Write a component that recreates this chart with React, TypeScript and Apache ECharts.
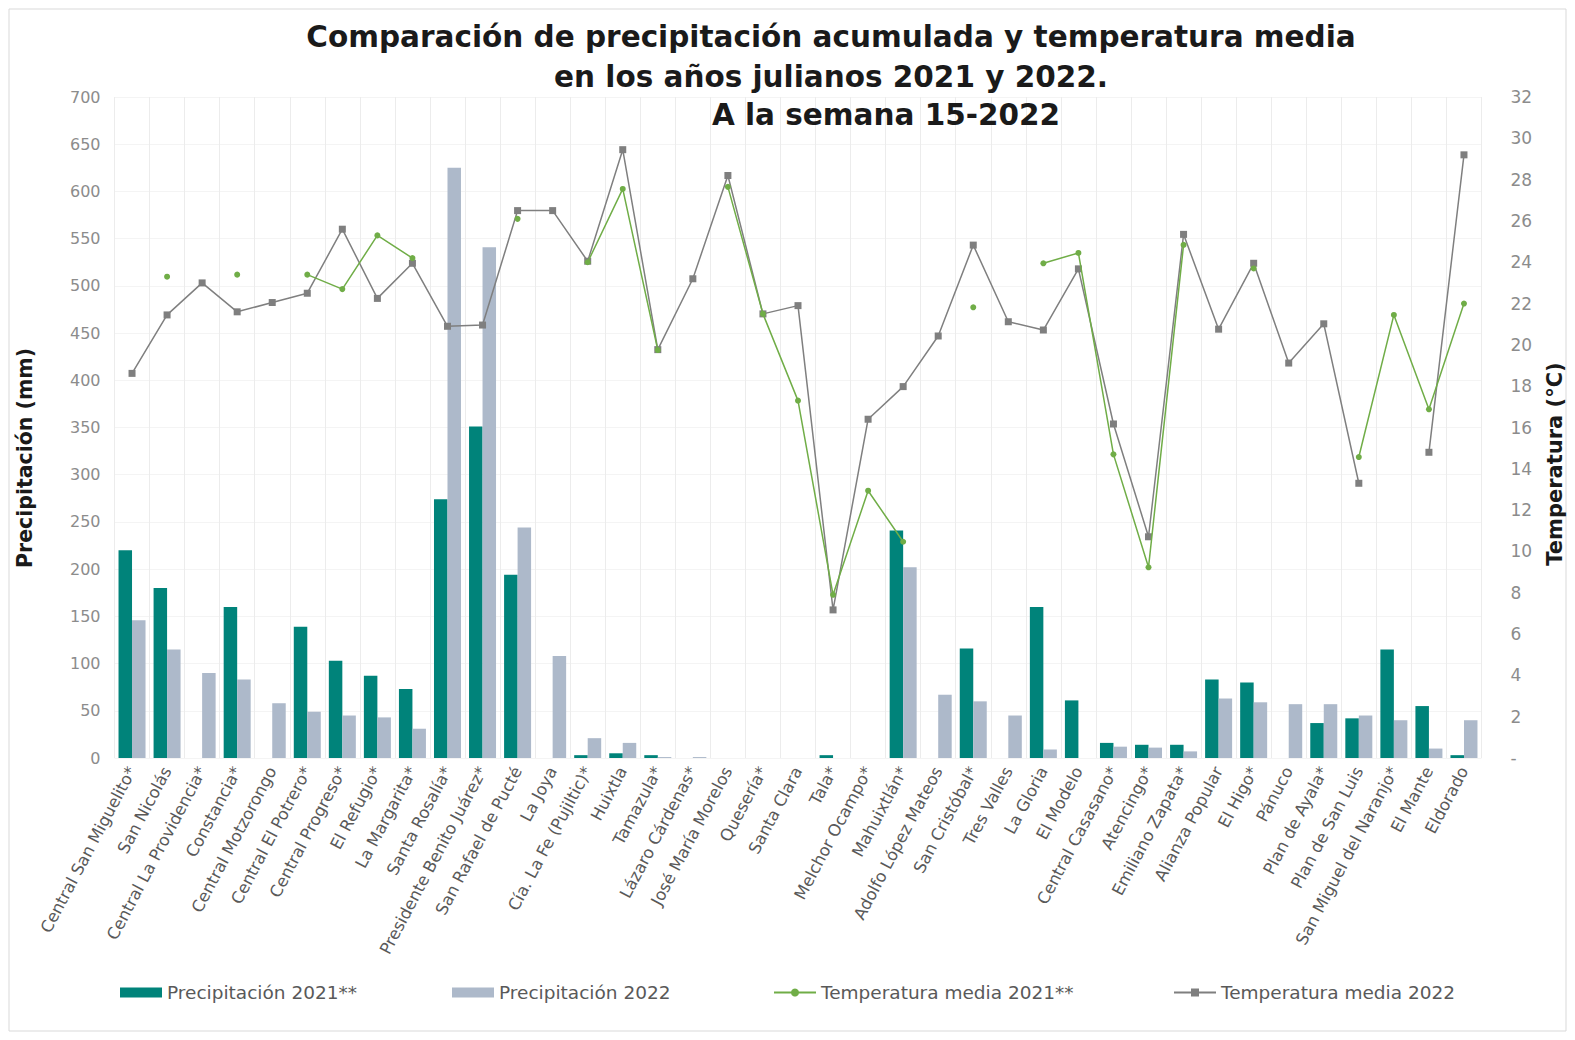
import React, { useEffect, useRef } from "react";
import * as echarts from "echarts";

const categories = [
  "Central San Miguelito*", "San Nicolás", "Central La Providencia*", "Constancia*", "Central Motzorongo",
  "Central El Potrero*", "Central Progreso*", "El Refugio*", "La Margarita*", "Santa Rosalía*",
  "Presidente Benito Juárez*", "San Rafael de Pucté", "La Joya", "Cía. La Fe (Pujiltic)*", "Huixtla",
  "Tamazula*", "Lázaro Cárdenas*", "José María Morelos", "Quesería*", "Santa Clara",
  "Tala*", "Melchor Ocampo*", "Mahuixtlán*", "Adolfo López Mateos", "San Cristóbal*",
  "Tres Valles", "La Gloria", "El Modelo", "Central Casasano*", "Atencingo*",
  "Emiliano Zapata*", "Alianza Popular", "El Higo*", "Pánuco", "Plan de Ayala*",
  "Plan de San Luis", "San Miguel del Naranjo*", "El Mante", "Eldorado",
];

const precip2021 = [
  220, 180, 0, 160, 0, 139, 103, 87, 73, 274,
  351, 194, 0, 3, 5, 3, 0, 0, 0, 0,
  3, 0, 241, 0, 116, 0, 160, 61, 16, 14,
  14, 83, 80, 0, 37, 42, 115, 55, 3,
];

const precip2022 = [
  146, 115, 90, 83, 58, 49, 45, 43, 31, 625,
  541, 244, 108, 21, 16, 1, 1, 0, 0, 0,
  0, 0, 202, 67, 60, 45, 9, 0, 12, 11,
  7, 63, 59, 57, 57, 45, 40, 10, 40,
];

const temp2021 = [
  null, 23.3, null, 23.4, null, 23.4, 22.7, 25.3, 24.2, null,
  null, 26.1, null, 24.0, 27.55, 19.75, null, 27.65, 21.5, 17.3,
  7.9, 12.94, 10.47, null, 21.82, null, 23.95, 24.45, 14.7, 9.23,
  24.84, null, 23.7, null, null, 14.57, 21.45, 16.88, 22.0,
];

const temp2022 = [
  18.62, 21.45, 23.0, 21.6, 22.05, 22.5, 25.6, 22.25, 23.95, 20.9,
  20.96, 26.5, 26.5, 24.05, 29.45, 19.77, 23.2, 28.2, 21.5, 21.9,
  7.17, 16.4, 17.98, 20.43, 24.83, 21.12, 20.72, 23.68, 16.17, 10.71,
  25.35, 20.76, 23.95, 19.12, 21.02, 13.3, null, 14.8, 29.2,
];

const seriesNames = [
  "Precipitación 2021**",
  "Precipitación 2022",
  "Temperatura media 2021**",
  "Temperatura media 2022",
];

const titleLines = [
  "Comparación de precipitación acumulada y temperatura media",
  "en los años julianos 2021 y 2022.",
  "A la semana 15-2022",
];

export default function App() {
  const ref = useRef<HTMLDivElement>(null);

  useEffect(() => {
    if (!ref.current) return;
    const chart = echarts.init(ref.current, undefined, { renderer: "svg" });
    const tickFont = "DejaVu Sans";
    const legendLefts = [107, 439, 760, 1160];
    const legendBase = {
      top: 970,
      itemWidth: 42,
      itemHeight: 10,
      itemGap: 5,
      textStyle: { color: "#595959", fontSize: 18.5, fontFamily: tickFont },
    };
    const titleStyle = (text: string) => ({
      text,
      align: "center",
      verticalAlign: "middle",
      fontSize: 29.5,
      fontWeight: "bold",
      fontFamily: "DejaVu Sans",
      fill: "#1a1a1a",
    });
    chart.setOption({
      animation: false,
      backgroundColor: "#ffffff",
      grid: { left: 106.5, right: 85.5, top: 89, bottom: 274 },
      legend: [
        { ...legendBase, left: legendLefts[0], data: [{ name: seriesNames[0], icon: "rect" }] },
        { ...legendBase, left: legendLefts[1], data: [{ name: seriesNames[1], icon: "rect" }] },
        { ...legendBase, left: legendLefts[2], data: [{ name: seriesNames[2] }] },
        { ...legendBase, left: legendLefts[3], data: [{ name: seriesNames[3] }] },
      ],
      xAxis: {
        type: "category",
        data: categories,
        axisLine: { show: false },
        axisTick: { show: false },
        splitLine: { show: true, lineStyle: { color: "#ececec", width: 1 } },
        axisLabel: {
          interval: 0,
          rotate: 62,
          margin: 10,
          color: "#595959",
          fontSize: 16.5,
          fontFamily: tickFont,
        },
      },
      yAxis: [
        {
          type: "value",
          min: 0,
          max: 700,
          interval: 50,
          axisLine: { show: false },
          axisTick: { show: false },
          splitLine: { show: true, lineStyle: { color: "#f4f4f4" } },
          axisLabel: { color: "#8c8c8c", fontSize: 16, margin: 14, fontFamily: tickFont },
        },
        {
          type: "value",
          min: 0,
          max: 32,
          interval: 2,
          axisLine: { show: false },
          axisTick: { show: false },
          splitLine: { show: false },
          axisLabel: {
            color: "#8c8c8c",
            fontSize: 17,
            margin: 29,
            fontFamily: tickFont,
            formatter: (v: number) => (v === 0 ? "-" : String(v)),
          },
        },
      ],
      series: [
        {
          name: seriesNames[0],
          type: "bar",
          data: precip2021,
          barWidth: 13.5,
          barGap: "0%",
          itemStyle: { color: "#00837a" },
        },
        {
          name: seriesNames[1],
          type: "bar",
          data: precip2022,
          barWidth: 13.5,
          barGap: "0%",
          itemStyle: { color: "#adb9ca" },
        },
        {
          name: seriesNames[2],
          type: "line",
          yAxisIndex: 1,
          data: temp2021,
          connectNulls: false,
          symbol: "circle",
          symbolSize: 6,
          lineStyle: { color: "#70ad47", width: 1.5 },
          itemStyle: { color: "#70ad47" },
          z: 4,
        },
        {
          name: seriesNames[3],
          type: "line",
          yAxisIndex: 1,
          data: temp2022,
          connectNulls: false,
          symbol: "rect",
          symbolSize: 7,
          lineStyle: { color: "#7f7f7f", width: 1.5 },
          itemStyle: { color: "#7f7f7f" },
          z: 3,
        },
      ],
      graphic: [
        {
          type: "rect",
          shape: { x: 1, y: 1, width: 1557, height: 1022 },
          style: { fill: "none", stroke: "#d9d9d9", lineWidth: 1 },
          silent: true,
        },
        { type: "text", x: 823, y: 29, z: 10, style: titleStyle(titleLines[0]) },
        { type: "text", x: 823, y: 69, z: 10, style: titleStyle(titleLines[1]) },
        { type: "text", x: 878, y: 107, z: 10, style: titleStyle(titleLines[2]) },
        {
          type: "text",
          x: 17,
          y: 450,
          rotation: Math.PI / 2,
          style: {
            text: "Precipitación (mm)",
            align: "center",
            verticalAlign: "middle",
            fontSize: 20.5,
            fontWeight: "bold",
            fontFamily: "DejaVu Sans",
            fill: "#1a1a1a",
          },
        },
        {
          type: "text",
          x: 1547,
          y: 456,
          rotation: Math.PI / 2,
          style: {
            text: "Temperatura (°C)",
            align: "center",
            verticalAlign: "middle",
            fontSize: 21,
            fontWeight: "bold",
            fontFamily: "DejaVu Sans",
            fill: "#1a1a1a",
          },
        },
      ],
    });
    return () => chart.dispose();
  }, []);

  return <div ref={ref} style={{ width: 1559, height: 1024 }} />;
}
